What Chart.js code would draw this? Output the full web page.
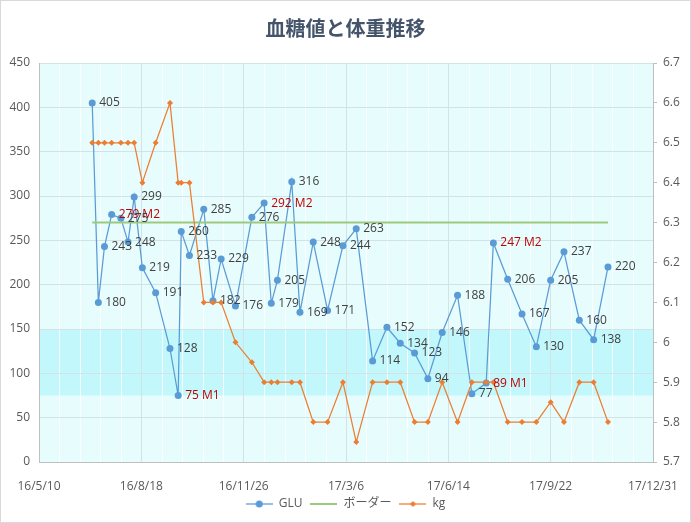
<!DOCTYPE html>
<html>
<head>
<meta charset="utf-8">
<script src="https://cdn.jsdelivr.net/npm/chart.js@4.4.1/dist/chart.umd.min.js"></script>
<style>
  body { margin: 0; background: #fff; }
  #wrap { width: 691px; height: 523px; box-sizing: border-box; border: 1px solid #d9d9d9; }
  canvas { display: block; }
</style>
</head>
<body>
<div id="wrap"><canvas id="chart" width="689" height="521"></canvas></div>
<script>
const dates = [
  '2016-07-01', '2016-07-07', '2016-07-13', '2016-07-20', '2016-07-29', '2016-08-05', '2016-08-11',
  '2016-08-19', '2016-09-01', '2016-09-15', '2016-09-23', '2016-09-26', '2016-10-04', '2016-10-18',
  '2016-10-27', '2016-11-04', '2016-11-18', '2016-12-04', '2016-12-16', '2016-12-23', '2016-12-29',
  '2017-01-12', '2017-01-20', '2017-02-02', '2017-02-16', '2017-03-03', '2017-03-16', '2017-04-01',
  '2017-04-15', '2017-04-28', '2017-05-12', '2017-05-25', '2017-06-08', '2017-06-23', '2017-07-07',
  '2017-07-21', '2017-07-28', '2017-08-11', '2017-08-25', '2017-09-08', '2017-09-22', '2017-10-05',
  '2017-10-20', '2017-11-03', '2017-11-17'
];
const gluValues = [
  405, 180, 243, 279, 275, 248, 299,
  219, 191, 128, 75, 260, 233, 285,
  182, 229, 176, 276, 292, 179, 205,
  316, 169, 248, 171, 244, 263, 114,
  152, 134, 123, 94, 146, 188, 77,
  89, 247, 206, 167, 130, 205, 237,
  160, 138, 220
];
const gluNotes = [
  '', '', '', 'M2', '', '', '',
  '', '', '', 'M1', '', '', '',
  '', '', '', '', 'M2', '', '',
  '', '', '', '', '', '', '',
  '', '', '', '', '', '', '',
  'M1', 'M2', '', '', '', '', '',
  '', '', ''
];
const kgValues = [
  6.5, 6.5, 6.5, 6.5, 6.5, 6.5, 6.5,
  6.4, 6.5, 6.6, 6.4, 6.4, 6.4, 6.1,
  6.1, 6.1, 6.0, 5.95, 5.9, 5.9, 5.9,
  5.9, 5.9, 5.8, 5.8, 5.9, 5.75, 5.9,
  5.9, 5.9, 5.8, 5.8, 5.9, 5.8, 5.9,
  5.9, 5.9, 5.8, 5.8, 5.8, 5.85, 5.8,
  5.9, 5.9, 5.8
];
const borderDates = ['2016-07-01', '2017-11-17'];
const borderValues = [270, 270];
const bandRange = [75, 150];

const startDay = Date.UTC(2016, 4, 10);
function toDay(s) {
  const [y, m, d] = s.split('-').map(Number);
  return (Date.UTC(y, m - 1, d) - startDay) / 86400000;
}
function dayLabel(v) {
  const dt = new Date(startDay + v * 86400000);
  return `${String(dt.getUTCFullYear()).slice(2)}/${dt.getUTCMonth() + 1}/${dt.getUTCDate()}`;
}

const BLUE = '#5B9BD5';
const ORANGE = '#ED7D31';
const GREEN = '#9DC97F';

function legendIcon(kind) {
  const c = document.createElement('canvas');
  c.width = 27; c.height = 10;
  const g = c.getContext('2d');
  g.strokeStyle = kind === 'glu' ? BLUE : kind === 'kg' ? ORANGE : GREEN;
  g.lineWidth = kind === 'border' ? 2 : 1.25;
  g.beginPath(); g.moveTo(0, 5); g.lineTo(27, 5); g.stroke();
  if (kind === 'glu') {
    g.fillStyle = BLUE;
    g.beginPath(); g.arc(13.5, 5, 3.5, 0, Math.PI * 2); g.fill();
  } else if (kind === 'kg') {
    g.fillStyle = ORANGE;
    g.beginPath(); g.moveTo(13.5, 2); g.lineTo(16.5, 5); g.lineTo(13.5, 8); g.lineTo(10.5, 5); g.closePath(); g.fill();
  }
  return c;
}

const backdrop = {
  id: 'backdrop',
  beforeDraw(chart) {
    const { ctx, chartArea: a, scales } = chart;
    ctx.save();
    ctx.fillStyle = '#E7FDFD';
    ctx.fillRect(a.left, a.top, a.right - a.left, a.bottom - a.top);
    const yTop = scales.y.getPixelForValue(bandRange[1]);
    const yBot = scales.y.getPixelForValue(bandRange[0]);
    ctx.fillStyle = '#C2F8FB';
    ctx.fillRect(a.left, yTop, a.right - a.left, yBot - yTop);
    ctx.strokeStyle = 'rgba(255,255,255,0.85)';
    ctx.lineWidth = 1;
    for (let d = 20; d < 600; d += 20) {
      if (d % 100 === 0) continue;
      const x = Math.round(scales.x.getPixelForValue(d)) + 0.5;
      ctx.beginPath(); ctx.moveTo(x, a.top); ctx.lineTo(x, a.bottom); ctx.stroke();
    }
    ctx.restore();
  }
};

const gluLabels = {
  id: 'gluLabels',
  afterDatasetsDraw(chart) {
    const meta = chart.getDatasetMeta(0);
    const ctx = chart.ctx;
    ctx.save();
    ctx.font = '12px "Open Sans", "Noto Sans CJK JP"';
    ctx.textBaseline = 'middle';
    meta.data.forEach((pt, i) => {
      const note = gluNotes[i];
      ctx.fillStyle = note ? '#C00000' : '#404040';
      ctx.fillText(note ? `${gluValues[i]} ${note}` : String(gluValues[i]), pt.x + 7, pt.y);
    });
    ctx.restore();
  }
};

Chart.defaults.font.family = '"Open Sans", "Noto Sans CJK JP", sans-serif';
Chart.defaults.font.size = 12;
Chart.defaults.color = '#595959';

const icons = { glu: legendIcon('glu'), border: legendIcon('border'), kg: legendIcon('kg') };

new Chart(document.getElementById('chart'), {
  type: 'line',
  data: {
    datasets: [
      {
        label: 'GLU',
        data: dates.map((d, i) => ({ x: toDay(d), y: gluValues[i] })),
        borderColor: BLUE,
        backgroundColor: BLUE,
        borderWidth: 1.25,
        pointRadius: 3.5,
        pointBorderWidth: 0,
        tension: 0,
        yAxisID: 'y',
        order: 3,
      },
      {
        label: 'ボーダー',
        data: borderDates.map((d, i) => ({ x: toDay(d), y: borderValues[i] })),
        borderColor: GREEN,
        borderWidth: 2,
        pointRadius: 0,
        yAxisID: 'y',
        order: 2,
      },
      {
        label: 'kg',
        data: dates.map((d, i) => ({ x: toDay(d), y: kgValues[i] })),
        borderColor: ORANGE,
        backgroundColor: ORANGE,
        borderWidth: 1.25,
        pointStyle: 'rectRot',
        pointRadius: 3,
        pointBorderWidth: 0,
        tension: 0,
        yAxisID: 'y2',
        order: 1,
      }
    ]
  },
  options: {
    responsive: false,
    animation: false,
    layout: { padding: { left: 0, right: 0, top: 0, bottom: 2 } },
    plugins: {
      title: {
        display: true,
        text: '血糖値と体重推移',
        color: '#44546A',
        font: { size: 20, weight: 'bold', family: '"Noto Sans CJK JP", sans-serif' },
        padding: { top: 15, bottom: 23 }
      },
      legend: {
        display: true,
        position: 'bottom',
        labels: {
          usePointStyle: true,
          pointStyleWidth: 27,
          padding: 8,
          color: '#595959',
          generateLabels: () => [
            { text: 'GLU', pointStyle: icons.glu, datasetIndex: 0, fontColor: '#595959', lineWidth: 0 },
            { text: 'ボーダー', pointStyle: icons.border, datasetIndex: 1, fontColor: '#595959', lineWidth: 0 },
            { text: 'kg', pointStyle: icons.kg, datasetIndex: 2, fontColor: '#595959', lineWidth: 0 }
          ]
        }
      },
      tooltip: { enabled: false }
    },
    scales: {
      x: {
        type: 'linear',
        min: 0,
        max: 600,
        afterFit: s => { s.height = 28; },
        ticks: { stepSize: 100, padding: 3, maxRotation: 0, callback: v => dayLabel(v) },
        grid: { color: '#D3E2E5', drawTicks: true, tickLength: 14, tickColor: 'rgba(0,0,0,0)' },
        border: { color: '#BFBFBF' }
      },
      y: {
        position: 'left',
        min: 0,
        max: 450,
        afterFit: s => { s.width = 38; },
        ticks: { stepSize: 50, padding: 9 },
        grid: { color: '#D3E2E5', drawTicks: false },
        border: { color: '#BFBFBF' }
      },
      y2: {
        position: 'right',
        min: 5.7,
        max: 6.7,
        afterFit: s => { s.width = 37; },
        ticks: { stepSize: 0.1, padding: 6, callback: v => String(Number(v.toFixed(1))) },
        grid: { drawOnChartArea: false, drawTicks: true, tickLength: 4, tickColor: '#BFBFBF' },
        border: { color: '#BFBFBF' }
      }
    }
  },
  plugins: [backdrop, gluLabels]
});
</script>
</body>
</html>
